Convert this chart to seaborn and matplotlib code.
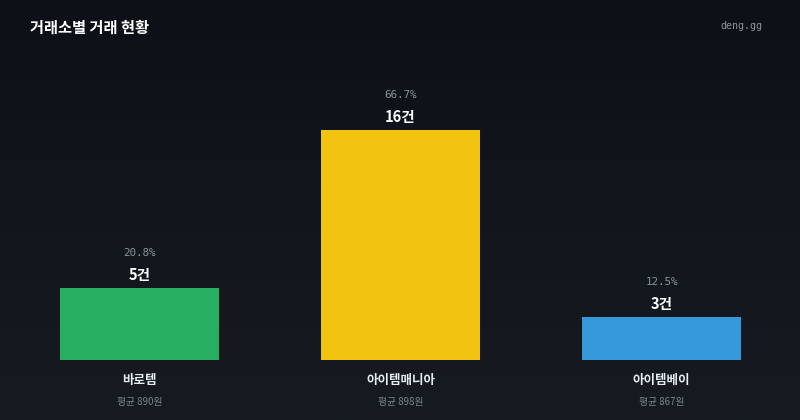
import matplotlib
matplotlib.use("Agg")
import matplotlib.pyplot as plt
import seaborn as sns
import numpy as np
import pandas as pd

# Data
exchanges = ["바로템", "아이템매니아", "아이템베이"]
counts = [5, 16, 3]
shares = ["20.8%", "66.7%", "12.5%"]
avg_prices = ["평균 890원", "평균 898원", "평균 867원"]
bar_colors = ["#27ae60", "#f1c40f", "#3498db"]

title_text = "거래소별 거래 현황"
brand_text = "deng.gg"

sns.set_theme(style="dark")
plt.rcParams['font.family'] = ['Noto Sans CJK KR', 'DejaVu Sans']

W, H = 800, 420
fig = plt.figure(figsize=(W / 100, H / 100), dpi=100)

# gradient background
bg = fig.add_axes([0, 0, 1, 1])
top = np.array([0x0d, 0x11, 0x17]) / 255
bot = np.array([0x16, 0x1b, 0x22]) / 255
t = np.linspace(0, 1, 256)[:, None]
grad = top[None, :] * (1 - t) + bot[None, :] * t
bg.imshow(grad[:, None, :].repeat(2, axis=1), aspect="auto", extent=[0, 1, 0, 1])
bg.set_axis_off()

# plot axes: x from 9 to 792 px, y from 360 (bottom) to 130 (top)
left, right = 9, 792
ybot, ytop = 360, 130
ax = fig.add_axes([left / W, 1 - ybot / H, (right - left) / W, (ybot - ytop) / H])
ax.patch.set_alpha(0)

df = pd.DataFrame({"exchange": exchanges, "count": counts})
sns.barplot(data=df, x="exchange", y="count", hue="exchange",
            palette=bar_colors, width=0.61, ax=ax, legend=False,
            saturation=1, edgecolor="none")
ax.set_xlim(-0.5, 2.5)
ax.set_ylim(0, 16)
ax.set_axis_off()

for i in range(len(exchanges)):
    c = counts[i]
    ax.annotate(f"{c}건", xy=(i, c), xytext=(0, 9.5), textcoords="offset points",
                ha="center", va="center", color="#ffffff", fontsize=10.5,
                fontweight="bold", annotation_clip=False)
    ax.annotate(shares[i], xy=(i, c), xytext=(0, 25), textcoords="offset points",
                ha="center", va="center", color="#8b949e", fontsize=7.8,
                family=["DejaVu Sans Mono"], annotation_clip=False)
    ax.annotate(exchanges[i], xy=(i, 0), xytext=(0, -15), textcoords="offset points",
                ha="center", va="center", color="#e6edf3", fontsize=9,
                fontweight="bold", annotation_clip=False)
    ax.annotate(avg_prices[i], xy=(i, 0), xytext=(0, -30), textcoords="offset points",
                ha="center", va="center", color="#7d8590", fontsize=7,
                annotation_clip=False)

fig.text(30 / W, 1 - 28 / H, title_text, ha="left", va="center",
         color="#ffffff", fontsize=11, fontweight="bold")
fig.text(762 / W, 1 - 26 / H, brand_text, ha="right", va="center",
         color="#8b949e", fontsize=7.2, family=["DejaVu Sans Mono"])

fig.savefig("out.png", dpi=100)
